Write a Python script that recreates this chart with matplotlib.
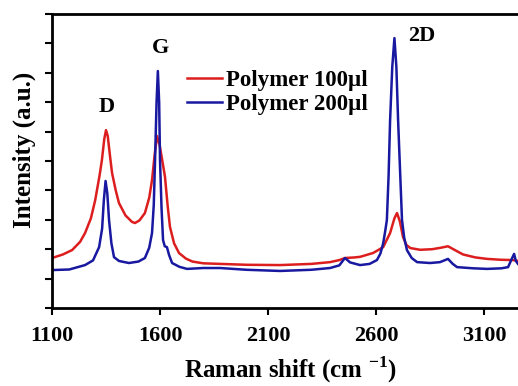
import matplotlib
matplotlib.use("Agg")
import matplotlib.pyplot as plt

plt.rcParams['font.family'] = ['Liberation Serif', 'DejaVu Serif']
plt.rcParams['font.weight'] = 'bold'
plt.rcParams['mathtext.fontset'] = 'custom'
plt.rcParams['mathtext.rm'] = 'Liberation Serif:bold'
plt.rcParams['mathtext.bf'] = 'Liberation Serif:bold'

# Polymer 100 ul (red)
shift_100 = [1100, 1150, 1193, 1230, 1253, 1280, 1300, 1320, 1331, 1342, 1350, 1358,
             1368, 1378, 1395, 1410, 1440, 1470, 1484, 1505, 1530, 1550, 1563, 1575,
             1586, 1598, 1612, 1623, 1635, 1646, 1665, 1688, 1720, 1750, 1800, 1878,
             2000, 2156, 2300, 2387, 2430, 2456, 2500, 2526, 2586, 2633, 2665, 2685,
             2697, 2710, 2725, 2740, 2758, 2804, 2860, 2900, 2933, 2970, 3003, 3060,
             3114, 3180, 3234, 3257]
int_100 = [1.70, 1.82, 1.97, 2.25, 2.55, 3.05, 3.67, 4.50, 5.03, 5.75, 6.05, 5.85,
           5.20, 4.59, 4.00, 3.57, 3.15, 2.93, 2.89, 2.98, 3.23, 3.75, 4.35, 5.20,
           5.85, 5.55, 4.95, 4.46, 3.50, 2.76, 2.20, 1.87, 1.68, 1.58, 1.52, 1.50,
           1.47, 1.46, 1.50, 1.56, 1.63, 1.70, 1.72, 1.74, 1.87, 2.07, 2.55, 3.05,
           3.23, 2.95, 2.41, 2.15, 2.04, 1.98, 2.00, 2.05, 2.10, 1.95, 1.82, 1.72,
           1.67, 1.64, 1.63, 1.60]

# Polymer 200 ul (blue)
shift_200 = [1100, 1180, 1253, 1290, 1318, 1332, 1340, 1348, 1356, 1364, 1375, 1387,
             1410, 1456, 1500, 1530, 1550, 1563, 1571, 1577, 1584, 1590, 1596, 1600,
             1607, 1614, 1622, 1632, 1642, 1656, 1690, 1725, 1800, 1878, 2000, 2156,
             2300, 2387, 2430, 2456, 2480, 2526, 2570, 2604, 2620, 2633, 2642, 2650,
             2658, 2665, 2675, 2685, 2694, 2702, 2712, 2720, 2730, 2743, 2765, 2790,
             2850, 2896, 2933, 2955, 2975, 3050, 3114, 3180, 3211, 3230, 3239, 3247,
             3257]
int_200 = [1.29, 1.31, 1.46, 1.62, 2.07, 2.70, 3.67, 4.32, 3.90, 2.99, 2.20, 1.73,
           1.60, 1.53, 1.58, 1.70, 2.05, 2.55, 3.50, 5.03, 7.00, 8.06, 7.00, 5.03,
           3.40, 2.31, 2.10, 2.07, 1.80, 1.53, 1.40, 1.33, 1.36, 1.36, 1.30, 1.26,
           1.30, 1.36, 1.45, 1.70, 1.55, 1.46, 1.50, 1.63, 1.85, 2.20, 2.60, 2.99,
           4.50, 6.39, 8.20, 9.18, 8.20, 6.39, 4.50, 3.00, 2.40, 1.97, 1.70, 1.56,
           1.53, 1.56, 1.67, 1.50, 1.39, 1.35, 1.33, 1.35, 1.39, 1.70, 1.84, 1.60,
           1.50]

x_ticks = [1100, 1600, 2100, 2600, 3100]
peak_labels = ['D', 'G', '2D']
peak_pos = [(1355, 6.84), (1600, 8.84), (2813, 9.25)]

fig = plt.figure(figsize=(5.18, 3.86), dpi=100)
ax = fig.add_axes([52 / 518, 78 / 386, 466 / 518, 294 / 386])

ax.plot(shift_100, int_100, color='#dc1e1e', lw=1.8, label='Polymer 100\u00b5l')
ax.plot(shift_200, int_200, color='#1818a0', lw=1.8, label='Polymer 200\u00b5l')

for lab, (px, py) in zip(peak_labels, peak_pos):
    ax.text(px, py, lab, ha='center', va='center', fontsize=16, fontweight='bold')

ax.set_xlim(1100, 3257)
ax.set_ylim(0, 10)
ax.set_xticks(x_ticks)
ax.set_yticks(range(0, 11))
ax.set_yticklabels([])
ax.tick_params(axis='both', direction='out', length=5, width=1.5, labelsize=16, pad=8)
for lbl in ax.get_xticklabels():
    lbl.set_fontweight('bold')
ax.spines['right'].set_visible(False)
for s in ['left', 'top', 'bottom']:
    ax.spines[s].set_linewidth(2)

fig.text(290 / 518, 8 / 386, 'Raman shift (cm $^{-1}$)', ha='center', va='baseline',
         fontsize=18, fontweight='bold')
fig.text(24 / 518, 236 / 386, 'Intensity (a.u.)', ha='center', va='center',
         rotation=90, fontsize=18, fontweight='bold')

ax.legend(loc='upper left', bbox_to_anchor=(0.29, 0.81), frameon=False,
          fontsize=16.5, handlelength=1.5, handletextpad=0.2, labelspacing=0.12,
          borderpad=0, borderaxespad=0)

fig.savefig('out.png', dpi=100)
